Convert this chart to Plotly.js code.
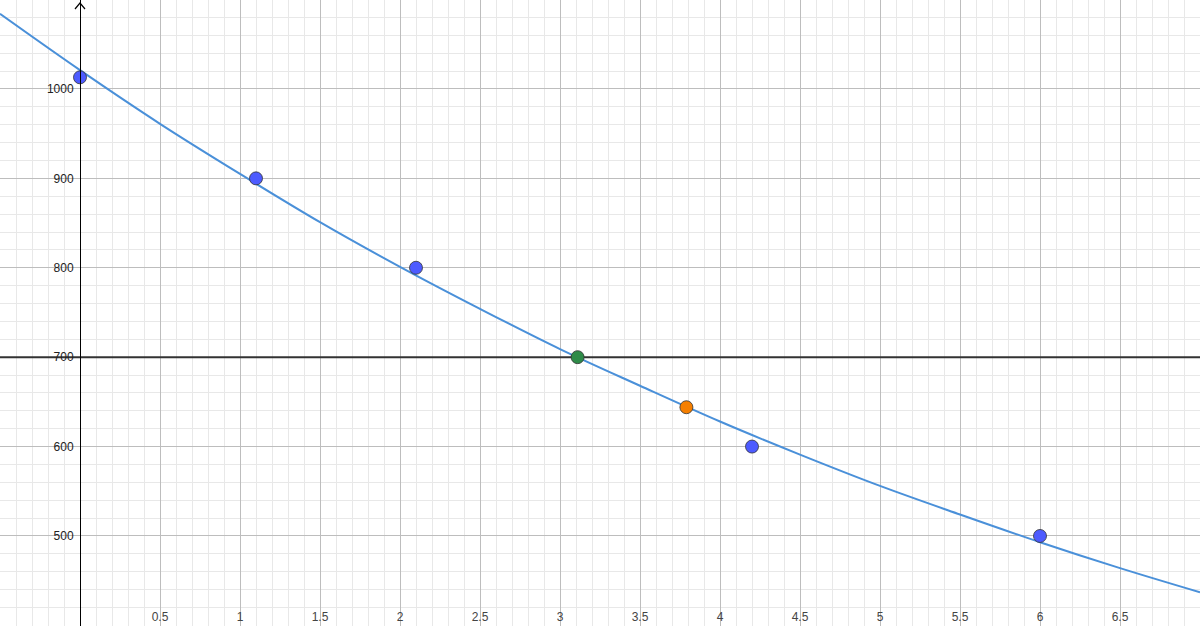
<!DOCTYPE html>
<html>
<head>
<meta charset="utf-8">
<script src="https://cdn.plot.ly/plotly-3.0.1.min.js"></script>
<style>
  html, body { margin: 0; padding: 0; background: #fff; }
  #chart { width: 1200px; height: 626px; }
</style>
</head>
<body>
<div id="chart"></div>
<script>
// curve values
const curveX = [-0.5, 0, 0.5, 1, 1.5, 2, 2.5, 3, 3.5, 4, 4.5, 5, 5.5, 6, 6.5, 7];
const curveY = [1084, 1021, 961, 905, 851, 801, 754, 709, 668, 628, 591, 556, 524, 493, 464, 437];

// measured points
const dataX = [0, 1.1, 2.1, 4.2, 6];
const dataY = [1013, 900, 800, 600, 500];

// intersection with the level line and the extra point
const crossX = [3.11];
const crossY = [700];
const extraX = [3.79];
const extraY = [644];

const levelY = 700;

const xTicks = [-0.5, 0, 0.5, 1, 1.5, 2, 2.5, 3, 3.5, 4, 4.5, 5, 5.5, 6, 6.5, 7];
const xTickText = ['', '', '0.5', '1', '1.5', '2', '2.5', '3', '3.5', '4', '4.5', '5', '5.5', '6', '6.5', ''];
const yTicks = [400, 500, 600, 700, 800, 900, 1000];
const yTickText = ['', '500', '600', '700', '800', '900', '1000'];

const dot = (color) => ({ size: 13, color: color, line: { color: '#333', width: 0.8 } });

const traces = [
  {
    x: curveX, y: curveY, mode: 'lines', type: 'scatter',
    line: { color: '#4a90d9', width: 2, shape: 'spline' }
  },
  {
    x: [curveX[0], curveX[curveX.length - 1]], y: [levelY, levelY], mode: 'lines', type: 'scatter',
    line: { color: '#333333', width: 2 }
  },
  { x: dataX, y: dataY, mode: 'markers', type: 'scatter', marker: dot('#4d5bff') },
  { x: crossX, y: crossY, mode: 'markers', type: 'scatter', marker: dot('#2e8b48') },
  { x: extraX, y: extraY, mode: 'markers', type: 'scatter', marker: dot('#f57f00') }
];

const layout = {
  width: 1200,
  height: 626,
  margin: { l: 0, r: 0, t: 0, b: 0 },
  paper_bgcolor: '#ffffff',
  plot_bgcolor: '#ffffff',
  showlegend: false,
  font: { family: 'Liberation Sans, Arial, sans-serif', size: 12, color: '#222' },
  xaxis: {
    range: [-0.5, 7.0],
    tickmode: 'array', tickvals: xTicks, ticktext: xTickText,
    ticklabelposition: 'inside', ticks: '',
    showgrid: true, gridcolor: '#bdbdbd', gridwidth: 1,
    minor: { tickmode: 'linear', tick0: 0, dtick: 0.1, showgrid: true, gridcolor: '#e8e8e8', gridwidth: 1 },
    zeroline: false, showline: false, fixedrange: true
  },
  yaxis: {
    range: [399.3, 1099.5],
    anchor: 'free', position: 80 / 1200,
    tickmode: 'array', tickvals: yTicks, ticktext: yTickText,
    ticklabelposition: 'outside', ticks: '', ticklabelstandoff: 4,
    showgrid: true, gridcolor: '#bdbdbd', gridwidth: 1,
    minor: { tickmode: 'linear', tick0: 0, dtick: 20, showgrid: true, gridcolor: '#e8e8e8', gridwidth: 1 },
    zeroline: false, showline: true, linecolor: '#000', linewidth: 1.3, fixedrange: true
  },
  shapes: [
    {
      type: 'path', xref: 'x', yref: 'paper',
      xsizemode: 'pixel', xanchor: 0,
      ysizemode: 'pixel', yanchor: 1,
      path: 'M -5,-9 L 0,-3 L 5,-9',
      line: { color: '#000', width: 1.2 }
    }
  ]
};

Plotly.newPlot('chart', traces, layout, { staticPlot: true, displayModeBar: false });
</script>
</body>
</html>
